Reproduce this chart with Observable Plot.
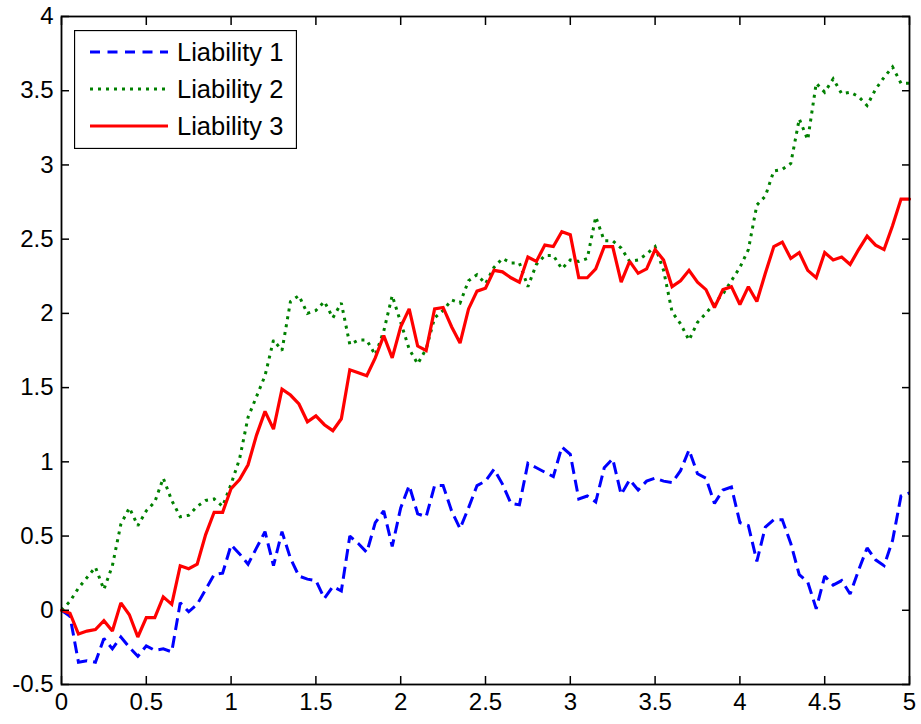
<!DOCTYPE html>
<html>
<head>
<meta charset="utf-8">
<script src="https://cdn.jsdelivr.net/npm/d3@7"></script>
<script src="https://cdn.jsdelivr.net/npm/@observablehq/plot@0.6"></script>
<style>
html, body { margin: 0; padding: 0; background: #fff; }
#wrap { position: relative; width: 921px; height: 724px; }
#legend { position: absolute; left: 74px; top: 30px; }
</style>
</head>
<body>
<div id="wrap"></div>
<script>
// ---- data (time step 0.05 from 0 to 5) ----
const seriesNames = ["Liability 1", "Liability 2", "Liability 3"];
const xTicks = [0, 0.5, 1, 1.5, 2, 2.5, 3, 3.5, 4, 4.5, 5];
const yTicks = [-0.5, 0, 0.5, 1, 1.5, 2, 2.5, 3, 3.5, 4];
const timeStep = 0.05;

const liability1 = [
  0, -0.04, -0.35, -0.34, -0.35, -0.19, -0.26, -0.18, -0.25, -0.31,
  -0.24, -0.27, -0.26, -0.28, 0.05, -0.01, 0.04, 0.14, 0.24, 0.25,
  0.44, 0.38, 0.31, 0.42, 0.53, 0.30, 0.53, 0.35, 0.23, 0.21,
  0.20, 0.08, 0.16, 0.13, 0.50, 0.45, 0.39, 0.59, 0.67, 0.43,
  0.69, 0.84, 0.65, 0.63, 0.84, 0.84, 0.67, 0.55, 0.69, 0.84,
  0.87, 0.95, 0.85, 0.72, 0.71, 0.99, 0.96, 0.93, 0.90, 1.10,
  1.05, 0.75, 0.77, 0.73, 0.96, 1.02, 0.78, 0.88, 0.81, 0.87,
  0.89, 0.87, 0.86, 0.94, 1.08, 0.92, 0.89, 0.72, 0.81, 0.83,
  0.59, 0.57, 0.33, 0.56, 0.61, 0.61, 0.45, 0.24, 0.19, 0.01,
  0.23, 0.17, 0.20, 0.11, 0.27, 0.42, 0.34, 0.30, 0.47, 0.77,
  0.79
];
const liability2 = [
  0, 0.06, 0.15, 0.22, 0.29, 0.14, 0.30, 0.58, 0.69, 0.57,
  0.67, 0.73, 0.89, 0.74, 0.63, 0.64, 0.70, 0.74, 0.75, 0.70,
  0.85, 1.02, 1.30, 1.44, 1.58, 1.82, 1.75, 2.08, 2.12, 2.00,
  2.02, 2.08, 1.97, 2.07, 1.79, 1.82, 1.82, 1.72, 1.88, 2.12,
  1.94, 1.76, 1.66, 1.76, 1.97, 2.02, 2.09, 2.07, 2.22, 2.26,
  2.20, 2.31, 2.37, 2.34, 2.34, 2.18, 2.33, 2.39, 2.39, 2.30,
  2.36, 2.35, 2.37, 2.65, 2.49, 2.49, 2.44, 2.35, 2.36, 2.40,
  2.45, 2.29, 2.01, 1.93, 1.82, 1.94, 2.00, 2.07, 2.13, 2.22,
  2.31, 2.43, 2.73, 2.79, 2.96, 2.97, 3.01, 3.31, 3.17, 3.55,
  3.49, 3.58, 3.48, 3.49, 3.46, 3.40, 3.51, 3.59, 3.66, 3.55,
  3.55
];
const liability3 = [
  0, -0.02, -0.16, -0.14, -0.13, -0.07, -0.14, 0.05, -0.03, -0.18,
  -0.05, -0.05, 0.09, 0.04, 0.30, 0.28, 0.31, 0.51, 0.66, 0.66,
  0.82, 0.88, 0.98, 1.18, 1.34, 1.22, 1.49, 1.45, 1.39, 1.27,
  1.31, 1.25, 1.21, 1.29, 1.62, 1.60, 1.58, 1.70, 1.85, 1.70,
  1.91, 2.03, 1.78, 1.75, 2.03, 2.04, 1.91, 1.80, 2.03, 2.15,
  2.17, 2.29, 2.28, 2.24, 2.21, 2.38, 2.35, 2.46, 2.45, 2.55,
  2.53, 2.24, 2.24, 2.30, 2.45, 2.45, 2.21, 2.35, 2.27, 2.30,
  2.43, 2.36, 2.18, 2.22, 2.29, 2.21, 2.16, 2.04, 2.16, 2.18,
  2.06, 2.18, 2.08, 2.27, 2.45, 2.48, 2.37, 2.41, 2.29, 2.24,
  2.41, 2.36, 2.38, 2.33, 2.43, 2.52, 2.46, 2.43, 2.59, 2.77,
  2.77
];

// ---- styles ----
const FONT = '"Liberation Sans", Arial, Helvetica, sans-serif';
const styles = [
  { color: "#0000ff", width: 3, dash: "12,6", legendDash: "10,7.5", cap: "butt" },
  { color: "#008000", width: 3, dash: "3,5", legendDash: "3,5", cap: "butt" },
  { color: "#ff0000", width: 3.2, dash: null, legendDash: null, cap: "round" }
];
const allValues = [liability1, liability2, liability3];
const times = liability1.map((_, i) => +(i * timeStep).toFixed(2));
const rows = allValues.map((vals, k) => vals.map((v, i) => ({ t: times[i], v, name: seriesNames[k] })));

const fmt = d => String(d);

const lineMarks = rows.map((data, k) => Plot.line(data, {
  x: "t", y: "v",
  stroke: styles[k].color,
  strokeWidth: styles[k].width,
  strokeDasharray: styles[k].dash || undefined,
  strokeLinecap: styles[k].cap,
  strokeLinejoin: "miter",
  strokeMiterlimit: 2
}));

const chart = Plot.plot({
  width: 921,
  height: 724,
  marginLeft: 61,
  marginRight: 12,
  marginTop: 16,
  marginBottom: 40,
  style: { fontFamily: FONT, fontSize: "24px", color: "#000", background: "#fff", overflow: "visible" },
  x: { domain: [0, 5] },
  y: { domain: [-0.5, 4] },
  marks: [
    ...lineMarks,
    Plot.frame({ stroke: "#000", strokeWidth: 1.8 }),
    Plot.axisX({ anchor: "bottom", ticks: xTicks, tickSize: -8, tickFormat: () => "", label: null, strokeWidth: 1.5 }),
    Plot.axisX({ anchor: "top", ticks: xTicks, tickSize: -8, tickFormat: () => "", label: null, strokeWidth: 1.5 }),
    Plot.axisY({ anchor: "left", ticks: yTicks, tickSize: -8, tickFormat: () => "", label: null, strokeWidth: 1.5 }),
    Plot.axisY({ anchor: "right", ticks: yTicks, tickSize: -8, tickFormat: () => "", label: null, strokeWidth: 1.5 }),
    Plot.axisX({ anchor: "bottom", ticks: xTicks, tickSize: 0, tickPadding: 8, tickFormat: fmt, label: null, fill: "#000", fontSize: 24 }),
    Plot.axisY({ anchor: "left", ticks: yTicks, tickSize: 0, tickPadding: 8, tickFormat: fmt, label: null, fill: "#000", fontSize: 24 })
  ]
});

const wrap = document.getElementById("wrap");
wrap.appendChild(chart);

// ---- legend (inside the axes, top-left) ----
const lw = 223, lh = 119;
const leg = d3.create("svg")
  .attr("id", "legend")
  .attr("width", lw)
  .attr("height", lh)
  .style("font-family", FONT)
  .style("font-size", "25.5px");
leg.append("rect")
  .attr("x", 0.5).attr("y", 0.5)
  .attr("width", lw - 1).attr("height", lh - 1)
  .attr("fill", "#fff").attr("stroke", "#000").attr("stroke-width", 1.3);
seriesNames.forEach((name, k) => {
  const cy = 22 + k * 37;
  const s = styles[k];
  leg.append("line")
    .attr("x1", 16).attr("x2", 94)
    .attr("y1", cy).attr("y2", cy)
    .attr("stroke", s.color)
    .attr("stroke-width", s.width)
    .attr("stroke-linecap", "butt")
    .attr("stroke-dasharray", s.legendDash);
  leg.append("text")
    .attr("x", 103).attr("y", cy)
    .attr("dy", "0.36em")
    .attr("fill", "#000")
    .text(name);
});
wrap.appendChild(leg.node());
</script>
</body>
</html>
